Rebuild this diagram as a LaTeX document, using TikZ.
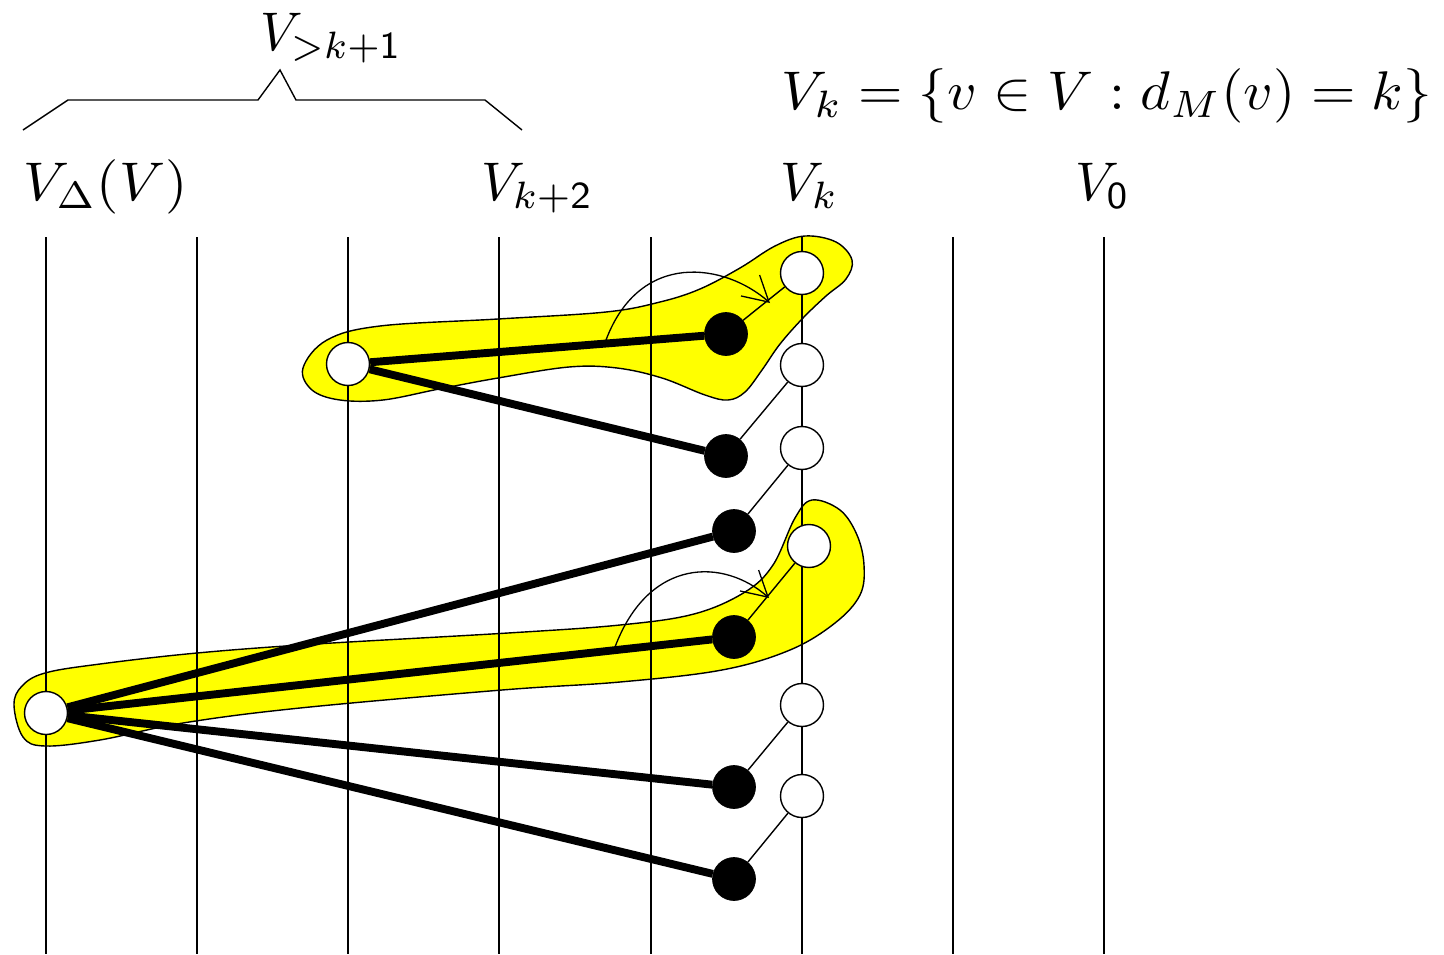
\documentclass[tikz,border=0pt]{standalone}
\usetikzlibrary{arrows.meta}
\definecolor{blobyellow}{RGB}{255,255,0}
\begin{document}
\begin{tikzpicture}[x=0.02cm,y=-0.02cm,
  wnode/.style={circle,draw,fill=white,minimum size=0.86cm,inner sep=0pt,line width=0.8pt},
  bnode/.style={circle,draw=black,fill=black,minimum size=0.86cm,inner sep=0pt},
  level/.style={line width=0.8pt},
  thickedge/.style={line width=4.5pt},
  thinedge/.style={line width=0.8pt},
  blob/.style={fill=blobyellow,draw=black,line width=0.8pt},
  swap arrow/.style={line width=0.75pt,-{Straight Barb[length=0.5cm,width=0.56cm,line width=0.75pt]}},
  lab/.style={scale=3.1,inner sep=0pt,anchor=base west}]
\useasboundingbox (0,0) rectangle (1444,954);

% yellow blobs
\draw[blob] plot[smooth cycle,tension=0.6] coordinates {
  (303,368) (327,340) (380,326) (498,319) (606,312) (660,302) (700,289)
  (740,268) (775,246) (805,236) (836,242) (852,260) (846,279) (826,296)
  (803,318) (780,344) (762,370) (745,392) (728,400) (705,395) (662,378)
  (617,368) (569,367) (498,378) (439,389) (383,400) (340,400) (312,390)};
\draw[blob] plot[smooth cycle,tension=0.6] coordinates {
  (14,705) (22,686) (45,673) (100,664) (197,653) (316,644) (508,633)
  (620,625) (694,614) (745,592) (773,565) (795,518) (812,500) (840,510)
  (857,535) (864,565) (860,595) (835,623) (790,650) (722,670) (620,682)
  (502,690) (300,708) (183,723) (100,740) (45,746) (23,737)};

% level lines
\foreach \x in {46,197,348,499,651,802,953,1104}
  \draw[level] (\x,237) -- (\x,954);

% bracket
\draw[line width=0.8pt] (23,130) -- (68,100) -- (258,100) -- (280,70) -- (296,100) -- (485,100) -- (522,130);

% labels
\node[lab,xscale=0.97] (lgt) at (259,50) {$V_{>k+\mathsf{1}}$};
\node[lab,xscale=1.05] (ldef) at (780,109) {$V_k=\{v\in V:d_M(v)=k\}$};
\node[lab,xscale=1.05] (ldelta) at (22,200) {$V_{\Delta}(V)$};
\node[lab] (lk2) at (480,200) {$V_{k+\mathsf{2}}$};
\node[lab] (lk) at (779,200) {$V_k$};
\node[lab] (l0) at (1074,200) {$V_{\mathsf{0}}$};

% swap arcs
\coordinate (a1s) at (606,340);
\coordinate (a1e) at (770,303);
\coordinate (a2s) at (615,647);
\coordinate (a2e) at (769,598);
\draw[swap arrow] (a1s) .. controls (640,250) and (725,263) .. (a1e);
\draw[swap arrow] (a2s) .. controls (649,557) and (724,558) .. (a2e);

% nodes
\node[wnode] (w1) at (802,273) {};
\node[wnode] (w2) at (802,365) {};
\node[wnode] (w3) at (802,448) {};
\node[wnode] (w4) at (809,546) {};
\node[wnode] (w5) at (802,705) {};
\node[wnode] (w6) at (802,796) {};
\node[wnode] (wL) at (348,364) {};
\node[wnode] (wD) at (46,713) {};

\node[bnode] (b1) at (726,334) {};
\node[bnode] (b2) at (726,456) {};
\node[bnode] (b3) at (734,531) {};
\node[bnode] (b4) at (734,637) {};
\node[bnode] (b5) at (734,787) {};
\node[bnode] (b6) at (734,879) {};

% matching edges (thin)
\draw[thinedge] (b1) -- (w1);
\draw[thinedge] (b2) -- (w2);
\draw[thinedge] (b3) -- (w3);
\draw[thinedge] (b4) -- (w4);
\draw[thinedge] (b5) -- (w5);
\draw[thinedge] (b6) -- (w6);

% thick edges
\draw[thickedge] (wL) -- (b1);
\draw[thickedge] (wL) -- (b2);
\draw[thickedge] (wD) -- (b3);
\draw[thickedge] (wD) -- (b4);
\draw[thickedge] (wD) -- (b5);
\draw[thickedge] (wD) -- (b6);
\end{tikzpicture}
\end{document}
